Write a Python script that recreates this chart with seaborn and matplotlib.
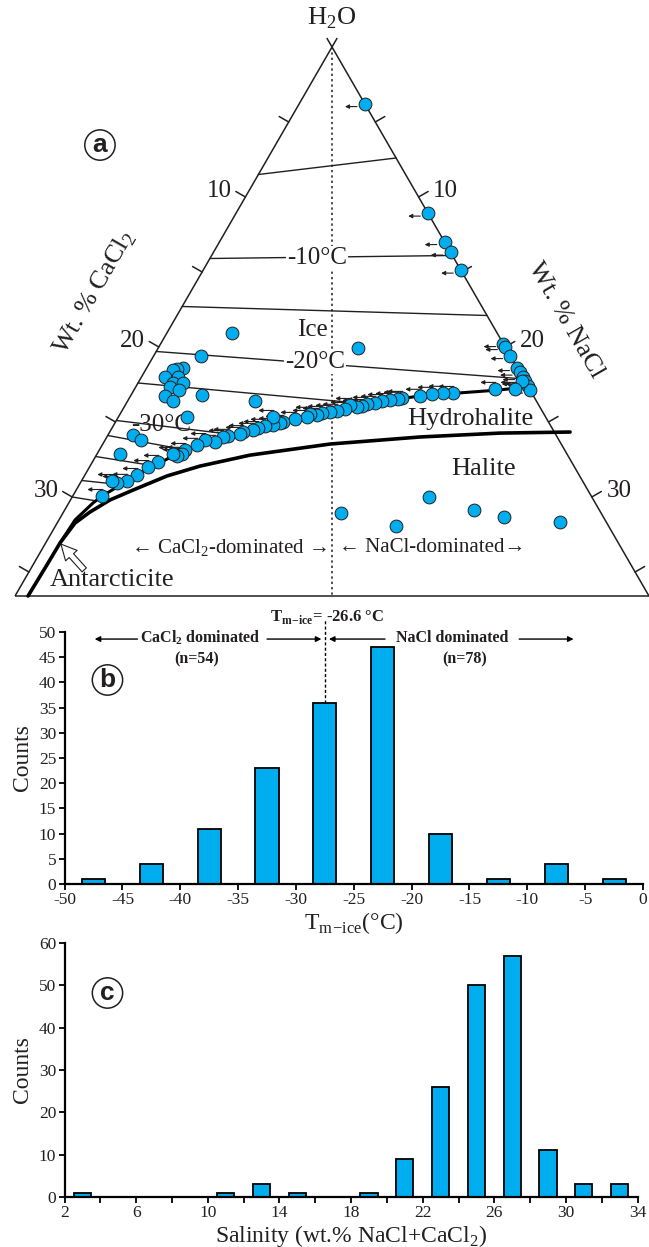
import matplotlib.pyplot as plt
import numpy as np
import pandas as pd
import seaborn as sns

# ---------------- panel a: H2O-NaCl-CaCl2 ternary (wt.%) ----------------
# inclusions on the NaCl-H2O side
edge_nacl = [3.8, 11.1, 13.0, 13.7, 14.9, 19.8, 20.0, 20.6, 21.4, 21.7, 22.0, 22.3, 22.6, 22.9, 22.1]
edge_cacl2 = [0.0, 0.0, 0.0, 0.0, 0.0, 0.0, 0.0, 0.0, 0.0, 0.0, 0.0, 0.0, 0.0, 0.0, 0.2]

# inclusions on the ice + hydrohalite / antarcticite cotectic
cot_nacl = [21.97, 20.81, 18.52, 17.94, 17.34, 16.71, 15.74, 15.54, 15.12, 14.69, 14.35, 13.92,
            13.70, 13.44, 12.97, 12.82, 12.42, 12.05, 11.62, 11.40, 10.96, 10.89, 10.27, 9.67,
            9.53, 9.20, 8.93, 8.76, 8.43, 8.20, 7.70, 7.59, 6.96, 6.71, 6.41, 5.77, 5.47,
            4.95, 4.90, 4.69, 4.39, 3.79, 3.38, 3.01, 2.63, 2.12, 1.77, 1.69]
cot_cacl2 = [0.83, 1.99, 4.55, 5.12, 5.79, 6.55, 7.66, 7.92, 8.42, 8.92, 9.38, 9.88,
             10.24, 10.56, 10.90, 11.32, 11.84, 12.28, 12.78, 13.13, 13.50, 13.78, 14.53, 15.33,
             15.53, 16.00, 15.74, 16.50, 16.98, 17.33, 17.98, 18.21, 18.97, 19.30, 19.92, 20.44, 21.06,
             21.92, 22.23, 22.59, 22.75, 23.88, 24.63, 25.53, 26.30, 26.95, 27.17, 28.25]

# inclusions inside the ice field
ice_nacl = [3.76, 11.53, 2.74, 2.10, 1.78, 1.59, 1.36, 2.11, 2.02, 2.60, 1.98, 2.60, 2.00, 2.62,
            4.10, 7.36, 3.97, 1.45, 2.07, 1.33]
ice_cacl2 = [15.31, 8.53, 17.87, 19.30, 19.68, 19.95, 20.64, 19.89, 20.38, 19.80, 20.69, 20.27, 21.27, 20.98,
             19.10, 16.25, 20.71, 24.43, 24.13, 25.81]

# inclusions in the halite field
hal_nacl = [16.05, 19.66, 20.60, 23.63, 25.60, 29.00]
hal_cacl2 = [15.02, 12.27, 9.40, 7.23, 5.74, 2.67]

# isotherms: left end on CaCl2-H2O side, right end on NaCl side or on the cotectic
iso_left_cacl2 = [8.5, 14.1, 17.3, 20.3, 22.4, 24.9, 25.9, 27.3, 28.9, 30.0]
iso_right_nacl = [7.4, 13.9, 17.9, 21.8, 13.0, 6.9, 4.95, 3.43, 2.04, 1.45]
iso_right_cacl2 = [0.0, 0.0, 0.0, 0.3, 10.7, 18.9, 21.9, 24.45, 27.1, 28.8]

# ice / salt cotectic and hydrohalite-halite-antarcticite boundary
cotectic_nacl = [0.83, 0.93, 1.40, 1.69, 3.01, 4.45, 5.87, 7.59, 9.53, 12.05, 14.60, 16.71, 18.92, 21.13, 22.65]
cotectic_cacl2 = [32.24, 30.60, 29.00, 28.25, 25.53, 22.81, 20.53, 18.21, 15.53, 12.28, 9.06, 6.55, 4.14, 1.73, 0.0]
salt_nacl = [0.75, 0.80, 0.83, 1.03, 1.53, 2.28, 3.28, 4.77, 6.35, 8.87, 13.12, 18.08, 22.57, 26.58]
salt_cacl2 = [35.85, 33.94, 32.24, 30.71, 29.47, 27.92, 26.26, 23.83, 21.59, 18.34, 13.35, 7.92, 3.17, -0.91]

bottom_total = 36.6
axis_ticks = [5, 10, 15, 20, 25, 30, 35]
axis_labels = [10, 20, 30]

# ---------------- panel b: Tm-ice histogram ----------------
tm_bins = [-47.5, -42.5, -37.5, -32.5, -27.5, -22.5, -17.5, -12.5, -7.5, -2.5]
tm_counts = [1, 4, 11, 23, 36, 47, 10, 1, 4, 1]
tm_split = -26.6

# ---------------- panel c: salinity histogram ----------------
sal_bins = [3, 11, 13, 15, 19, 21, 23, 25, 27, 29, 31, 33]
sal_counts = [1, 1, 3, 1, 1, 9, 26, 50, 57, 11, 3, 3]

BLUE = '#00aeef'
INK = '#231f20'
SQ3 = np.sqrt(3) / 2


def tern(nacl, cacl2):
    # H2O apex at (0, 0), CaCl2 to the lower left, NaCl to the lower right
    nacl = np.asarray(nacl, dtype=float)
    cacl2 = np.asarray(cacl2, dtype=float)
    return 0.5 * (nacl - cacl2), -SQ3 * (nacl + cacl2)


sns.set_style('ticks')
plt.rcParams['font.family'] = ['Liberation Serif', 'DejaVu Serif']
plt.rcParams['mathtext.fontset'] = 'custom'
plt.rcParams['mathtext.rm'] = 'Liberation Serif'
plt.rcParams['mathtext.bf'] = 'Liberation Serif:bold'
plt.rcParams['axes.unicode_minus'] = False

fig = plt.figure(figsize=(6.49, 12.47), dpi=100)

# ===== ternary =====
ax_t = fig.add_axes([0, 647 / 1247, 1, 600 / 1247])
ax_t.set_xlim(-332 / 17.32, 317 / 17.32)
ax_t.set_ylim(-553 / 17.32, 47 / 17.32)
ax_t.axis('off')

frame = dict(color=INK, lw=1.1, solid_capstyle='butt')
ax_t.plot(*tern([0, 0], [-0.6, bottom_total]), **frame)
ax_t.plot(*tern([-0.6, bottom_total], [0, 0]), **frame)
ax_t.plot(*tern([0, bottom_total], [bottom_total, 0]), **frame)
ax_t.plot(*tern([0, bottom_total / 2], [0, bottom_total / 2]), color=INK, lw=1.1, ls=(0, (1.5, 2.0)))

tl = 0.635
for v in axis_ticks:
    x0, y0 = tern(0, v)
    ax_t.plot([x0, x0 - tl * SQ3], [y0, y0 + tl * 0.5], color=INK, lw=1.1)
    x1, y1 = tern(v, 0)
    ax_t.plot([x1, x1 + tl * SQ3], [y1, y1 + tl * 0.5], color=INK, lw=1.1)
for v in axis_labels:
    x0, y0 = tern(0, v)
    ax_t.text(x0 - tl * SQ3 - 0.25, y0 + tl * 0.5, str(v), ha='right', va='center', fontsize=18, color=INK)
    x1, y1 = tern(v, 0)
    ax_t.text(x1 + tl * SQ3 + 0.3, y1 + tl * 0.5, str(v), ha='left', va='center', fontsize=18, color=INK)

for lc, rn, rc in zip(iso_left_cacl2, iso_right_nacl, iso_right_cacl2):
    ax_t.plot(*tern([0, rn], [lc, rc]), color=INK, lw=1.0)

ax_t.plot(*tern(salt_nacl, salt_cacl2), color='black', lw=2.6, solid_capstyle='round')
ax_t.plot(*tern(cotectic_nacl, cotectic_cacl2), color='black', lw=2.2, solid_capstyle='round')

arrow_kw = dict(arrowstyle='-|>', color=INK, lw=0.8, mutation_scale=6, shrinkA=0, shrinkB=0)
ex, ey = tern(edge_nacl, edge_cacl2)
for x, y in zip(ex, ey):
    ax_t.annotate('', xy=(x - 1.15, y - 0.15), xytext=(x - 0.45, y - 0.15), arrowprops=arrow_kw, zorder=3)
cx, cy = tern(cot_nacl, cot_cacl2)
for x, y in zip(cx, cy):
    ax_t.annotate('', xy=(x - 0.85, y + 0.38), xytext=(x + 0.05, y + 0.38), arrowprops=arrow_kw, zorder=3)

pts = pd.DataFrame({
    'nacl': edge_nacl + cot_nacl + ice_nacl + hal_nacl,
    'cacl2': edge_cacl2 + cot_cacl2 + ice_cacl2 + hal_cacl2,
})
pts['x'], pts['y'] = tern(pts['nacl'], pts['cacl2'])
sns.scatterplot(data=pts, x='x', y='y', s=85, color=BLUE, edgecolor=INK, linewidth=0.7,
                ax=ax_t, zorder=5, legend=False)
ax_t.set_xlabel('')
ax_t.set_ylabel('')

gap = dict(facecolor='white', edgecolor='none', pad=0.5)
ax_t.text(0.4885, 0.57, '-10°C', transform=ax_t.transAxes, ha='center', va='center', fontsize=18,
          color=INK, bbox=gap, zorder=4)
ax_t.text(0.4854, 0.3967, '-20°C', transform=ax_t.transAxes, ha='center', va='center', fontsize=18,
          color=INK, bbox=gap, zorder=4)
ax_t.text(0.248, 0.2917, '-30°C', transform=ax_t.transAxes, ha='center', va='center', fontsize=18,
          color=INK, zorder=4)
ax_t.text(0.481, 0.45, 'Ice', transform=ax_t.transAxes, ha='center', va='center', fontsize=18, color=INK)
ax_t.text(0.724, 0.302, 'Hydrohalite', transform=ax_t.transAxes, ha='center', va='center',
          fontsize=19, color=INK)
ax_t.text(0.745, 0.218, 'Halite', transform=ax_t.transAxes, ha='center', va='center', fontsize=19, color=INK)
ax_t.text(0.173, 0.0333, 'Antarcticite', transform=ax_t.transAxes, ha='center', va='center',
          fontsize=19, color=INK)
ax_t.text(0.353, 0.0867, '← CaCl$_2$-dominated →', transform=ax_t.transAxes, ha='center', va='center',
          fontsize=15, color=INK)
ax_t.text(0.666, 0.0867, '← NaCl-dominated→', transform=ax_t.transAxes, ha='center', va='center',
          fontsize=15, color=INK)
ax_t.text(0.5116, 0.97, 'H$_2$O', transform=ax_t.transAxes, ha='center', va='center', fontsize=19, color=INK)
ax_t.text(0.146, 0.512, 'Wt. % CaCl$_2$', transform=ax_t.transAxes, ha='center', va='center',
          fontsize=19, rotation=60, color=INK)
ax_t.text(0.871, 0.467, 'Wt. % NaCl', transform=ax_t.transAxes, ha='center', va='center',
          fontsize=19, rotation=-60, color=INK)

jx, jy = tern(cotectic_nacl[0], cotectic_cacl2[0])
ax_t.annotate('', xy=(jx, jy), xytext=(jx + 1.4, jy - 1.55),
              arrowprops=dict(arrowstyle='simple,head_length=0.8,head_width=0.8,tail_width=0.3',
                              fc='white', ec=INK, lw=0.8, mutation_scale=14, shrinkA=0, shrinkB=1))

# ===== histogram b =====
ax_b = fig.add_axes([64.6 / 649, 363 / 1247, 578.4 / 649, 252 / 1247])
df_b = pd.DataFrame({'tm': tm_bins, 'n': tm_counts})
sns.barplot(data=df_b, x='tm', y='n', native_scale=True, width=0.4, color=BLUE, saturation=1,
            edgecolor='black', linewidth=1.3, errorbar=None, ax=ax_b)
ax_b.set_xlim(-50, 0)
ax_b.set_ylim(0, 50)
ax_b.set_xticks(range(-50, 1, 5))
ax_b.set_yticks(range(0, 51, 5))
ax_b.set_xlabel('T$_{\\mathrm{m\\!-\\!ice}}$(°C)', fontsize=17, labelpad=1, color=INK)
ax_b.set_ylabel('Counts', fontsize=17, labelpad=4, color=INK)

split_x = tm_bins[int(np.searchsorted(np.array(tm_bins) + 2.5, tm_split))]
split_top = tm_counts[tm_bins.index(split_x)]
ax_b.plot([split_x, split_x], [split_top, 52.3], color='black', lw=1.0, ls=(0, (2.2, 1.6)), clip_on=False)
ax_b.text(split_x + 0.2, 52.9, 'T$_{\\mathbf{m\\!-\\!ice}}$= -%.1f °C' % abs(tm_split), ha='center', va='center',
          fontsize=12, fontweight='bold', color=INK)

hk = dict(arrowstyle='-|>', color='black', lw=1.0, mutation_scale=8, shrinkA=0, shrinkB=0)
ax_b.annotate('', xy=(-47.4, 48.6), xytext=(-43.7, 48.6), arrowprops=hk, annotation_clip=False)
ax_b.annotate('', xy=(-27.8, 48.6), xytext=(-32.5, 48.6), arrowprops=hk, annotation_clip=False)
ax_b.annotate('', xy=(-27.15, 48.6), xytext=(-22.3, 48.6), arrowprops=hk, annotation_clip=False)
ax_b.annotate('', xy=(-6.0, 48.6), xytext=(-10.7, 48.6), arrowprops=hk, annotation_clip=False)
ax_b.text(-38.3, 48.9, 'CaCl$_\\mathbf{2}$ dominated', ha='center', va='center', fontsize=11.5,
          fontweight='bold', color=INK)
ax_b.text(-38.55, 44.6, '(n=54)', ha='center', va='center', fontsize=11.5, fontweight='bold', color=INK)
ax_b.text(-16.5, 48.9, 'NaCl dominated', ha='center', va='center', fontsize=11.5,
          fontweight='bold', color=INK)
ax_b.text(-15.4, 44.6, '(n=78)', ha='center', va='center', fontsize=11.5, fontweight='bold', color=INK)

# ===== histogram c =====
ax_c = fig.add_axes([64.6 / 649, 50 / 1247, 573 / 649, 254 / 1247])
df_c = pd.DataFrame({'sal': sal_bins, 'n': sal_counts})
sns.barplot(data=df_c, x='sal', y='n', native_scale=True, width=0.48, color=BLUE, saturation=1,
            edgecolor='black', linewidth=1.3, errorbar=None, ax=ax_c)
ax_c.set_xlim(2, 34)
ax_c.set_ylim(0, 60)
ax_c.set_xticks(range(2, 35, 4))
ax_c.set_xticks(range(4, 35, 4), minor=True)
ax_c.set_yticks(range(0, 61, 10))
ax_c.set_xlabel('Salinity (wt.% NaCl+CaCl$_2$)', fontsize=17, labelpad=1, color=INK)
ax_c.set_ylabel('Counts', fontsize=17, labelpad=4, color=INK)

for ax in (ax_b, ax_c):
    sns.despine(ax=ax)
    for side in ('left', 'bottom'):
        ax.spines[side].set_linewidth(1.6)
        ax.spines[side].set_color('black')
    ax.tick_params(which='both', direction='out', length=4, width=1.3, labelsize=12.5,
                   colors='black', labelcolor=INK, pad=2)

# panel letters
for lx, ly, letter in [(0.154, 0.8837, 'a'), (0.1656, 0.4547, 'b'), (0.1656, 0.2037, 'c')]:
    fig.text(lx, ly, letter, ha='center', va='center', fontsize=19, fontweight='bold',
             family=['Liberation Sans', 'DejaVu Sans'], color=INK,
             bbox=dict(boxstyle='circle,pad=0.12', fc='white', ec=INK, lw=1.1))

fig.savefig('out.png', dpi=100)
